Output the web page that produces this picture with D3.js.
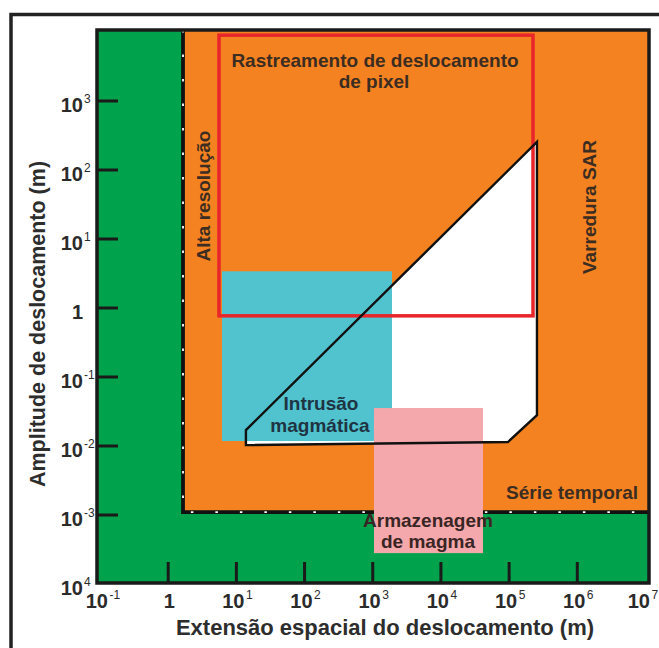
<!DOCTYPE html>
<html>
<head>
  <meta charset="utf-8">
  <script src="https://d3js.org/d3.v7.min.js"></script>
  <style>
    body { margin: 0; background: #fff; }
    text { font-family: "Liberation Sans", Arial, sans-serif; }
  </style>
</head>
<body>
<script type="text/javascript">
  "use strict";

  // Axis ticks (log scale, metres)
  var xTickValues = [1e-1, 1, 1e1, 1e2, 1e3, 1e4, 1e5, 1e6, 1e7];
  var xTickBase   = ["10", "1", "10", "10", "10", "10", "10", "10", "10"];
  var xTickExp    = ["-1", "", "1", "2", "3", "4", "5", "6", "7"];

  var yTickValues = [1e-4, 1e-3, 1e-2, 1e-1, 1, 1e1, 1e2, 1e3];
  var yTickBase   = ["10", "10", "10", "10", "1", "10", "10", "10"];
  var yTickExp    = ["4", "-3", "-2", "-1", "", "1", "2", "3"];

  // Regions, as [xMin, xMax, yMin, yMax] in metres
  var sarCoverage    = [1.65, 2e7, 1.1e-3, 2e4];      // orange area
  var pixelTracking  = [5.56, 2.24e5, 0.77, 9000];    // red outline
  var intrusion      = [6.15, 1915, 0.0118, 3.4];     // teal box
  var magmaStorage   = [1042, 41400, 2.8e-4, 0.0355]; // pink box

  // White polygon (x, y) in metres
  var insarPolygon = [
    [13.8, 0.017], [13.8, 0.0103], [9.6e4, 0.0114],
    [2.56e5, 0.028], [2.56e5, 255]
  ];

  var width = 659, height = 648;
  var plot = { left: 97, top: 30, right: 649, bottom: 583 };
  var labelColor = "#3b2d22";

  var svg = d3.select("body").append("svg")
    .attr("width", width)
    .attr("height", height);

  var x = d3.scaleLog().domain([1e-1, 1e7]).range([100, 645.5]);
  var y = d3.scaleLog().domain([1e-4, 1e3]).range([584, 101]);

  // outer frame
  svg.append("rect")
    .attr("x", 11).attr("y", 14.5)
    .attr("width", 670).attr("height", 660)
    .attr("fill", "#fff")
    .attr("stroke", "#222").attr("stroke-width", 3.5);

  svg.append("clipPath").attr("id", "plotclip")
    .append("rect")
    .attr("x", plot.left).attr("y", plot.top)
    .attr("width", plot.right - plot.left)
    .attr("height", plot.bottom - plot.top);

  var g = svg.append("g").attr("clip-path", "url(#plotclip)");

  function box(r) {
    return {
      x: x(r[0]), y: y(r[3]),
      w: x(r[1]) - x(r[0]), h: y(r[2]) - y(r[3])
    };
  }

  // green background
  g.append("rect")
    .attr("x", plot.left).attr("y", plot.top)
    .attr("width", plot.right - plot.left)
    .attr("height", plot.bottom - plot.top)
    .attr("fill", "#01a24c");

  var b = box(sarCoverage);
  g.append("rect")
    .attr("x", b.x).attr("y", b.y).attr("width", b.w).attr("height", b.h)
    .attr("fill", "#f58220");

  // dashed limit of the orange area
  var limit = "M" + x(sarCoverage[0]) + "," + plot.top +
              "L" + x(sarCoverage[0]) + "," + y(sarCoverage[2]) +
              "L" + plot.right + "," + y(sarCoverage[2]);
  g.append("path").attr("d", limit)
    .attr("fill", "none").attr("stroke", "#111").attr("stroke-width", 3.8);
  g.append("path").attr("d", limit)
    .attr("fill", "none").attr("stroke", "#fff").attr("stroke-width", 1.8)
    .attr("stroke-dasharray", "2.5 22");

  var line = d3.line()
    .x(function(d) { return x(d[0]); })
    .y(function(d) { return y(d[1]); })
    .curve(d3.curveLinearClosed);

  g.append("path").attr("d", line(insarPolygon))
    .attr("fill", "#fff");

  b = box(intrusion);
  g.append("rect")
    .attr("x", b.x).attr("y", b.y).attr("width", b.w).attr("height", b.h)
    .attr("fill", "#50c3cf");

  b = box(magmaStorage);
  g.append("rect")
    .attr("x", b.x).attr("y", b.y).attr("width", b.w).attr("height", b.h)
    .attr("fill", "#f4a8ab");

  b = box(pixelTracking);
  g.append("rect")
    .attr("x", b.x).attr("y", b.y).attr("width", b.w).attr("height", b.h)
    .attr("fill", "none")
    .attr("stroke", "#e8252a").attr("stroke-width", 3.5);

  g.append("path").attr("d", line(insarPolygon))
    .attr("fill", "none")
    .attr("stroke", "#111").attr("stroke-width", 2.4)
    .attr("stroke-linejoin", "miter");

  // plot frame
  svg.append("rect")
    .attr("x", plot.left).attr("y", plot.top)
    .attr("width", plot.right - plot.left)
    .attr("height", plot.bottom - plot.top)
    .attr("fill", "none")
    .attr("stroke", "#1a1a1a").attr("stroke-width", 3.5);

  // ticks (inward)
  svg.selectAll(".xtick")
    .data(xTickValues.slice(1, -1))
    .enter().append("line")
    .attr("x1", function(d) { return x(d); })
    .attr("x2", function(d) { return x(d); })
    .attr("y1", plot.bottom).attr("y2", plot.bottom - 21)
    .attr("stroke", "#1a1a1a").attr("stroke-width", 3);

  svg.selectAll(".ytick")
    .data(yTickValues.slice(1))
    .enter().append("line")
    .attr("y1", function(d) { return y(d); })
    .attr("y2", function(d) { return y(d); })
    .attr("x1", plot.left).attr("x2", plot.left + 21)
    .attr("stroke", "#1a1a1a").attr("stroke-width", 3);

  // tick labels with superscripts
  xTickValues.forEach(function(v, i) {
    var px = Math.min(x(v), 642);   // keep the last one inside the page
    if (xTickExp[i] === "") {
      svg.append("text")
        .attr("x", px + 1).attr("y", 608)
        .attr("text-anchor", "middle")
        .style("font-size", "20px").style("font-weight", "bold")
        .attr("fill", "#2b2b2b")
        .text(xTickBase[i]);
    } else {
      svg.append("text")
        .attr("x", px + 8).attr("y", 608)
        .attr("text-anchor", "end")
        .style("font-size", "20px").style("font-weight", "bold")
        .attr("fill", "#2b2b2b")
        .text(xTickBase[i]);
      svg.append("text")
        .attr("x", px + 9.5).attr("y", 599)
        .style("font-size", "12px")
        .attr("fill", "#2b2b2b")
        .text(xTickExp[i]);
    }
  });

  yTickValues.forEach(function(v, i) {
    var py = y(v);
    svg.append("text")
      .attr("x", 83).attr("y", py + 10.5)
      .attr("text-anchor", "end")
      .style("font-size", "20px").style("font-weight", "bold")
      .attr("fill", "#2b2b2b")
      .text(yTickBase[i]);
    if (yTickExp[i] !== "") {
      svg.append("text")
        .attr("x", 84).attr("y", py + 2)
        .style("font-size", "12px")
        .attr("fill", "#2b2b2b")
        .text(yTickExp[i]);
    }
  });

  // axis titles
  svg.append("text")
    .attr("x", 385).attr("y", 635)
    .attr("text-anchor", "middle")
    .style("font-size", "22px").style("font-weight", "bold")
    .attr("fill", "#2d2d2d")
    .text("Extensão espacial do deslocamento (m)");

  svg.append("text")
    .attr("transform", "translate(45,324) rotate(-90)")
    .attr("text-anchor", "middle")
    .style("font-size", "21.5px").style("font-weight", "bold")
    .attr("fill", "#2d2d2d")
    .text("Amplitude de deslocamento (m)");

  // region labels
  function label(txt, px, py, anchor, color, rot) {
    var t = svg.append("text")
      .attr("text-anchor", anchor || "middle")
      .style("font-size", "19px").style("font-weight", "bold")
      .attr("fill", color || labelColor)
      .text(txt);
    if (rot) t.attr("transform", "translate(" + px + "," + py + ") rotate(-90)");
    else t.attr("x", px).attr("y", py);
  }

  label("Rastreamento de deslocamento", 375, 67);
  label("de pixel", 374, 88);
  label("Alta resolução", 210, 196, "middle", labelColor, true);
  label("Varredura SAR", 596, 207, "middle", labelColor, true);
  label("Intrusão", 321, 410, "middle", "#1f3443");
  label("magmática", 320, 432, "middle", "#1f3443");
  label("Armazenagem", 428, 527, "middle", "#3a2525");
  label("de magma", 428, 548, "middle", "#3a2525");
  label("Série temporal", 638, 499, "end");
</script>
</body>
</html>
